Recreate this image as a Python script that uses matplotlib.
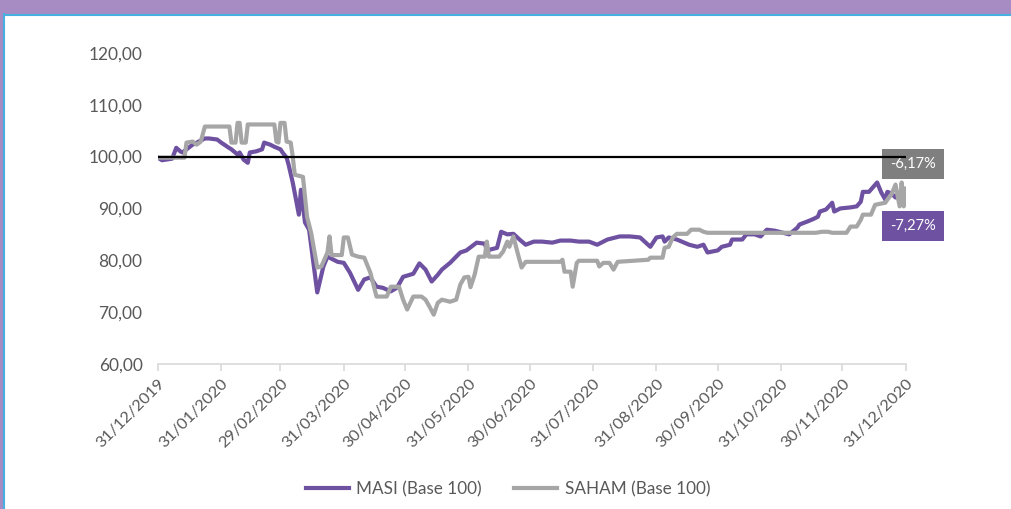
import matplotlib.pyplot as plt
from matplotlib.patches import Rectangle
from matplotlib.lines import Line2D
import pandas as pd

plt.rcParams['font.family'] = ['Lato', 'DejaVu Sans']

# days after 31/12/2019 and index levels (base 100)
masi_day = [0, 2, 7, 9, 11, 12, 14, 17, 20, 23, 25, 29, 31, 34, 36, 39, 40, 42, 44, 45,
            48, 51, 52, 55, 57, 60, 61, 63, 64, 66, 69, 70, 72, 74, 78, 81, 83, 88, 91, 94,
            98, 101, 104, 107, 110, 114, 117, 120, 125, 128, 131, 134, 137, 139, 143, 148,
            151, 156, 160, 161, 166, 168, 171, 174, 177, 180, 184, 188, 193, 197, 202, 206,
            211, 215, 220, 226, 231, 236, 241, 244, 247, 248, 250, 254, 260, 264, 267, 269,
            274, 276, 280, 281, 286, 288, 292, 295, 298, 302, 306, 309, 313, 314, 318, 321,
            323, 324, 327, 330, 331, 334, 339, 342, 344, 345, 348, 352, 354, 356, 357, 359,
            361, 362, 363, 366]
masi_val = [99.8, 99.3, 99.6, 101.7, 101.0, 100.8, 101.4, 102.3, 102.9, 103.5, 103.5, 103.3,
            102.7, 101.9, 101.4, 100.4, 100.8, 99.4, 98.8, 100.8, 101.0, 101.4, 102.7, 102.3,
            101.9, 101.4, 100.8, 99.8, 98.4, 95.0, 88.8, 93.6, 87.3, 85.9, 73.8, 78.8, 80.7,
            79.7, 79.5, 77.6, 74.3, 76.3, 76.7, 74.9, 74.7, 74.0, 74.7, 76.8, 77.4, 79.4, 78.2,
            75.9, 77.2, 78.2, 79.5, 81.5, 81.9, 83.4, 83.2, 81.9, 82.4, 85.5, 85.0, 85.1, 84.0,
            83.0, 83.6, 83.6, 83.4, 83.8, 83.8, 83.6, 83.6, 83.0, 84.0, 84.6, 84.6, 84.4, 82.6,
            84.4, 84.6, 83.6, 84.4, 84.0, 83.0, 82.6, 83.0, 81.5, 81.9, 82.6, 83.0, 84.0, 84.0,
            85.0, 85.0, 84.6, 85.9, 85.7, 85.3, 85.0, 86.3, 86.9, 87.5, 88.0, 88.4, 89.4, 89.8,
            91.1, 89.4, 90.0, 90.2, 90.4, 91.3, 93.2, 93.2, 95.0, 93.1, 91.7, 93.2, 92.9, 92.1,
            92.7, 91.3, 92.73]

saham_day = [0, 13, 14, 17, 19, 21, 23, 35, 36, 38, 39, 40, 41, 43, 44, 57, 58, 59, 60, 62,
             63, 65, 66, 67, 71, 72, 73, 75, 78, 80, 83, 84, 85, 90, 91, 93, 95, 98, 101, 104,
             107, 112, 114, 117, 118, 120, 122, 125, 129, 131, 133, 135, 137, 139, 143, 146,
             148, 150, 152, 153, 155, 157, 160, 161, 162, 167, 169, 171, 172, 174, 176, 178,
             180, 197, 198, 199, 202, 203, 205, 206, 215, 216, 218, 221, 223, 225, 240, 241,
             247, 248, 250, 252, 254, 259, 261, 265, 267, 269, 322, 325, 328, 330, 337, 339,
             342, 344, 345, 349, 351, 356, 357, 359, 361, 363, 364, 365, 366]
saham_val = [99.8, 99.8, 102.7, 102.9, 102.3, 102.9, 105.8, 105.8, 102.7, 102.7, 106.5, 106.5,
             102.7, 102.7, 106.2, 106.2, 102.9, 102.7, 106.5, 106.5, 102.9, 102.7, 100.0, 96.5,
             96.1, 92.3, 88.4, 85.3, 78.6, 78.8, 81.5, 84.6, 81.0, 81.0, 84.4, 84.4, 81.1, 80.7,
             80.5, 77.6, 73.0, 73.0, 74.9, 74.9, 74.9, 72.4, 70.5, 73.0, 73.0, 72.4, 71.0, 69.5,
             71.8, 72.4, 72.0, 72.4, 75.3, 76.7, 76.8, 74.8, 77.2, 80.7, 80.7, 83.6, 80.7, 80.7,
             81.7, 83.6, 82.6, 84.6, 81.5, 78.6, 79.7, 79.7, 80.1, 77.8, 77.8, 74.9, 79.5, 79.9,
             79.9, 78.8, 79.5, 79.5, 78.2, 79.7, 80.1, 80.5, 80.5, 82.4, 82.6, 84.4, 85.1, 85.1,
             85.9, 85.9, 85.5, 85.3, 85.3, 85.5, 85.5, 85.3, 85.3, 86.5, 86.5, 87.8, 88.8, 88.8,
             90.7, 91.1, 91.7, 92.7, 94.6, 90.4, 95.0, 90.4, 93.83]

month_ends = ['2019-12-31', '2020-01-31', '2020-02-29', '2020-03-31', '2020-04-30',
              '2020-05-31', '2020-06-30', '2020-07-31', '2020-08-31', '2020-09-30',
              '2020-10-31', '2020-11-30', '2020-12-31']
perf_masi = '-7,27%'
perf_saham = '-6,17%'

start = pd.Timestamp('2019-12-31')
masi_dates = start + pd.to_timedelta(masi_day, unit='D')
saham_dates = start + pd.to_timedelta(saham_day, unit='D')
ticks = pd.to_datetime(month_ends)

purple = '#6E52A1'
grey = '#A6A6A6'

fig = plt.figure(figsize=(10.12, 5.09), dpi=100)
# frame around the chart
fig.patches.append(Rectangle((0, 0), 1, 1, transform=fig.transFigure,
                             facecolor='#A78BC3', edgecolor='none', zorder=-3))
fig.patches.append(Rectangle((0.004, 0), 0.996, 0.972, transform=fig.transFigure,
                             facecolor='white', edgecolor='none', zorder=-2))
fig.add_artist(Line2D([0.004, 1], [0.971, 0.971], color='#48B0E0', lw=1.5))
fig.add_artist(Line2D([0.004, 0.004], [0, 0.972], color='#48B0E0', lw=1.5))

ax = fig.add_axes([0.156, 0.285, 0.739, 0.611])
ax.set_facecolor('none')
ax.plot(masi_dates, masi_val, color=purple, lw=3, label='MASI (Base 100)',
        solid_joinstyle='round', zorder=3)
ax.plot(saham_dates, saham_val, color=grey, lw=3, label='SAHAM (Base 100)',
        solid_joinstyle='round', zorder=4)
ax.axhline(100, color='black', lw=1.6, zorder=5)

ax.set_xlim(ticks[0], ticks[-1])
ax.set_ylim(60, 120)
ax.set_yticks(range(60, 121, 10))
ax.set_yticklabels([f'{v},00' for v in range(60, 121, 10)])
ax.set_xticks(ticks)
ax.set_xticklabels(ticks.strftime('%d/%m/%Y'), rotation=45, ha='right',
                   rotation_mode='anchor')
for s in ['top', 'right', 'left']:
    ax.spines[s].set_visible(False)
ax.spines['bottom'].set_color('#D9D9D9')
ax.spines['bottom'].set_linewidth(1.2)
ax.tick_params(axis='y', length=0, labelsize=12.5, labelcolor='#595959', pad=11)
ax.tick_params(axis='x', length=5, color='#D9D9D9', width=1.2, labelsize=11.8,
               labelcolor='#595959', pad=4)

# end-of-period performance labels
ax.annotate(perf_saham, xy=(ticks[-1], saham_val[-1]), xytext=(5, 18),
            textcoords='offset points', ha='center', va='center', color='white',
            fontsize=10.5, annotation_clip=False,
            bbox=dict(boxstyle='square,pad=0.55', fc='#7F7F7F', ec='none'))
ax.annotate(perf_masi, xy=(ticks[-1], masi_val[-1]), xytext=(5, -23),
            textcoords='offset points', ha='center', va='center', color='white',
            fontsize=10.5, annotation_clip=False,
            bbox=dict(boxstyle='square,pad=0.55', fc=purple, ec='none'))

fig.legend(loc='center', bbox_to_anchor=(0.502, 0.039), ncol=2,
           frameon=False, fontsize=12.3, handlelength=2.5, handletextpad=0.45,
           columnspacing=1.9, labelcolor='#595959')

fig.savefig('out.png', dpi=100)
